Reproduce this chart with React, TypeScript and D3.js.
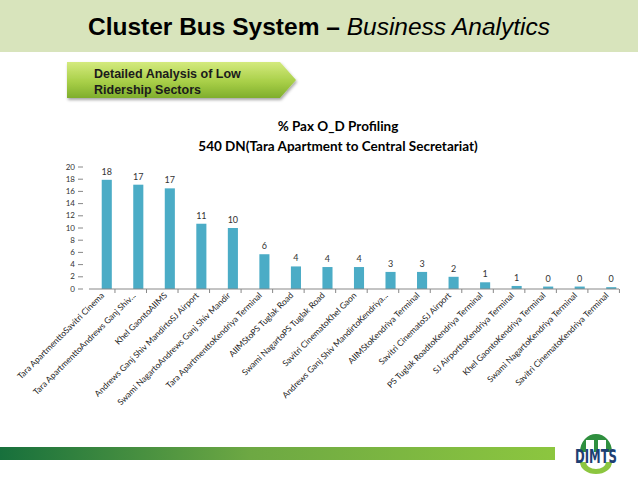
import * as d3 from "d3";
import React from "react";

const categories = [
  "Tara ApartmenttoSavitri Cinema",
  "Tara ApartmenttoAndrews Ganj Shiv...",
  "Khel GaontoAIIMS",
  "Andrews Ganj Shiv MandirtoSJ Airport",
  "Swami NagartoAndrews Ganj Shiv Mandir",
  "Tara ApartmenttoKendriya Terminal",
  "AIIMStoPS Tuglak Road",
  "Swami NagartoPS Tuglak Road",
  "Savitri CinematoKhel Gaon",
  "Andrews Ganj Shiv MandirtoKendriya...",
  "AIIMStoKendriya Terminal",
  "Savitri CinematoSJ Airport",
  "PS Tuglak RoadtoKendriya Terminal",
  "SJ AirporttoKendriya Terminal",
  "Khel GaontoKendriya Terminal",
  "Swami NagartoKendriya Terminal",
  "Savitri CinematoKendriya Terminal",
];

const paxShare = [17.9, 17.1, 16.5, 10.7, 10.0, 5.7, 3.7, 3.6, 3.6, 2.8, 2.8, 2.0, 1.1, 0.5, 0.4, 0.4, 0.3];

const yTicks = [0, 2, 4, 6, 8, 10, 12, 14, 16, 18, 20];

const pageTitle = "Cluster Bus System \u2013 ";
const pageSubtitle = "Business Analytics";
const boxLines = ["Detailed Analysis of Low", "Ridership Sectors"];
const chartTitle = ["% Pax O_D Profiling", "540 DN(Tara Apartment to Central Secretariat)"];

const barColor = "#4bacc6";
const chartFont = "Lato, 'Open Sans', sans-serif";

export default function App() {
  const width = 638;
  const height = 479;

  const x = d3.scaleBand<string>()
    .domain(categories)
    .range([91, 627])
    .paddingInner(0.68)
    .paddingOuter(0.34);

  const y = d3.scaleLinear()
    .domain([0, 20])
    .range([289, 167]);

  const bw = x.bandwidth();
  const step = x.step();
  const [x0, x1] = x.range();

  return (
    <svg width={width} height={height} style={{ position: "absolute", left: 0, top: 0 }}>
      <defs>
        <linearGradient id="boxFill" x1="0" y1="0" x2="0" y2="1">
          <stop offset="0%" stopColor="#d4ea7e" />
          <stop offset="55%" stopColor="#a8cf48" />
          <stop offset="100%" stopColor="#7fae2c" />
        </linearGradient>
        <linearGradient id="footFill" x1="0" y1="0" x2="1" y2="0">
          <stop offset="0%" stopColor="#17703c" />
          <stop offset="45%" stopColor="#6da843" />
          <stop offset="100%" stopColor="#8cc63f" />
        </linearGradient>
        <filter id="shadow" x="-10%" y="-20%" width="130%" height="160%">
          <feDropShadow dx="1" dy="2" stdDeviation="1.5" floodColor="#000" floodOpacity="0.35" />
        </filter>
      </defs>

      <rect x={0} y={0} width={width} height={52} fill="#d8e4bc" />
      <text
        x={319}
        y={35}
        textAnchor="middle"
        fontFamily="'Liberation Sans', Arial, sans-serif"
        fontSize={24.5}
        fill="#000"
      >
        <tspan fontWeight="bold">{pageTitle}</tspan>
        <tspan fontStyle="italic">{pageSubtitle}</tspan>
      </text>

      <polygon
        points="67,62 280,62 296,80 280,98 67,98"
        fill="url(#boxFill)"
        filter="url(#shadow)"
      />
      {boxLines.map((line, i) => (
        <text
          key={line}
          x={94}
          y={78 + i * 16}
          fontFamily="'Liberation Sans', Arial, sans-serif"
          fontWeight="bold"
          fontSize={12.5}
          fill="#1b1b1b"
        >
          {line}
        </text>
      ))}

      {chartTitle.map((line, i) => (
        <text
          key={line}
          x={338}
          y={131 + i * 20}
          textAnchor="middle"
          fontFamily={chartFont}
          fontWeight="bold"
          fontSize={13.5}
          fill="#000"
        >
          {line}
        </text>
      ))}

      {yTicks.map((t) => (
        <g key={t}>
          <line x1={78} x2={83} y1={y(t)} y2={y(t)} stroke="#888" />
          <text
            x={75}
            y={y(t)}
            dy="0.33em"
            textAnchor="end"
            fontFamily={chartFont}
            fontSize={8}
            fill="#333"
          >
            {t}
          </text>
        </g>
      ))}

      {categories.map((c, i) => {
        const v = paxShare[i];
        const cx = (x(c) ?? 0) + bw / 2;
        return (
          <g key={c}>
            <rect x={x(c)} y={y(v)} width={bw} height={y(0) - y(v)} fill={barColor} />
            <text
              x={cx}
              y={y(v) - 5}
              textAnchor="middle"
              fontFamily={chartFont}
              fontSize={9}
              fill="#333"
            >
              {Math.round(v)}
            </text>
            <line
              x1={cx + step * 0.26}
              x2={cx + step * 0.26}
              y1={y(0)}
              y2={y(0) + 4}
              stroke="#888"
            />
            <text
              transform={`translate(${cx - 2},${y(0) + 7}) rotate(-45)`}
              textAnchor="end"
              fontFamily={chartFont}
              fontSize={8.5}
              fill="#222"
            >
              {c}
            </text>
          </g>
        );
      })}
      <line x1={x0 - 2} x2={x1 - 8} y1={y(0)} y2={y(0)} stroke="#888" />

      <rect x={0} y={447} width={555} height={13} fill="url(#footFill)" />

      <g>
        <path d="M580,452 A16,18 0 0 1 612,452 L606,452 L606,440 L598,440 L598,452 L594,452 L594,440 L586,440 L586,452 Z" fill="#2f8f3f" />
        <path d="M580,462 A16,12 0 0 0 612,462 L606,462 A10,7 0 0 1 586,462 Z" fill="#8cc63f" />
        <text
          x={596}
          y={463}
          textAnchor="middle"
          fontFamily="'Liberation Sans Narrow', 'DejaVu Sans Condensed', Arial, sans-serif"
          fontWeight="bold"
          fontSize={19}
          textLength={42}
          lengthAdjust="spacingAndGlyphs"
          fill="#1d3f73"
        >
          DIMTS
        </text>
      </g>
    </svg>
  );
}
